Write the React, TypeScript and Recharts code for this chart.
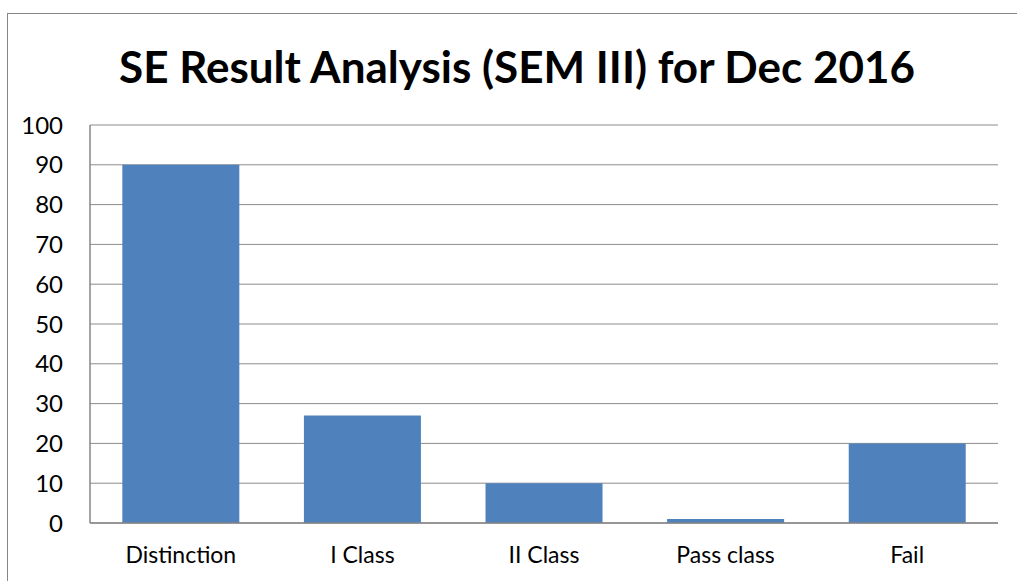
import React from 'react';
import { BarChart, Bar, XAxis, YAxis, CartesianGrid } from 'recharts';

const categories = ['Distinction', 'I Class', 'II Class', 'Pass class', 'Fail'];
const students = [90, 27, 10, 1, 20];
const yTicks = [0, 10, 20, 30, 40, 50, 60, 70, 80, 90, 100];

const data = categories.map((name, i) => ({ name, value: students[i] }));

const FONT = 'Lato, "Open Sans", sans-serif';

const App: React.FC = () => {
    return (
        <div style={{ position: 'absolute', left: 0, top: 0, width: 1017, height: 581, overflow: 'hidden', background: '#fff' }}>
            <div style={{
                position: 'absolute',
                left: 7,
                top: 13,
                width: 1040,
                height: 600,
                border: '1px solid #868686',
            }} />
            <div style={{
                position: 'absolute',
                left: 0,
                top: 38,
                width: 1034,
                textAlign: 'center',
                fontFamily: FONT,
                fontWeight: 700,
                fontSize: 44,
                lineHeight: '56px',
                color: '#000',
            }}>
                SE Result Analysis (SEM III) for Dec 2016
            </div>
            <div style={{ position: 'absolute', left: 0, top: 0 }}>
                <BarChart
                    width={1017}
                    height={581}
                    data={data}
                    margin={{ top: 125, right: 19, left: 0, bottom: 28 }}
                    barCategoryGap="17.8%"
                >
                    <CartesianGrid vertical={false} stroke="#8c8c8c" strokeWidth={1} />
                    <XAxis
                        dataKey="name"
                        height={30}
                        tickLine={false}
                        tickSize={0}
                        tickMargin={24}
                        axisLine={{ stroke: '#868686', strokeWidth: 1.5 }}
                        tick={{ fill: '#000', fontSize: 23, fontFamily: FONT }}
                    />
                    <YAxis
                        width={90}
                        domain={[0, 100]}
                        ticks={yTicks}
                        interval={0}
                        tickLine={false}
                        tickSize={0}
                        tickMargin={27}
                        axisLine={{ stroke: '#868686', strokeWidth: 1.5 }}
                        tick={{ fill: '#000', fontSize: 24, fontFamily: FONT }}
                    />
                    <Bar dataKey="value" fill="#4f81bd" isAnimationActive={false} />
                </BarChart>
            </div>
        </div>
    );
};

export default App;
